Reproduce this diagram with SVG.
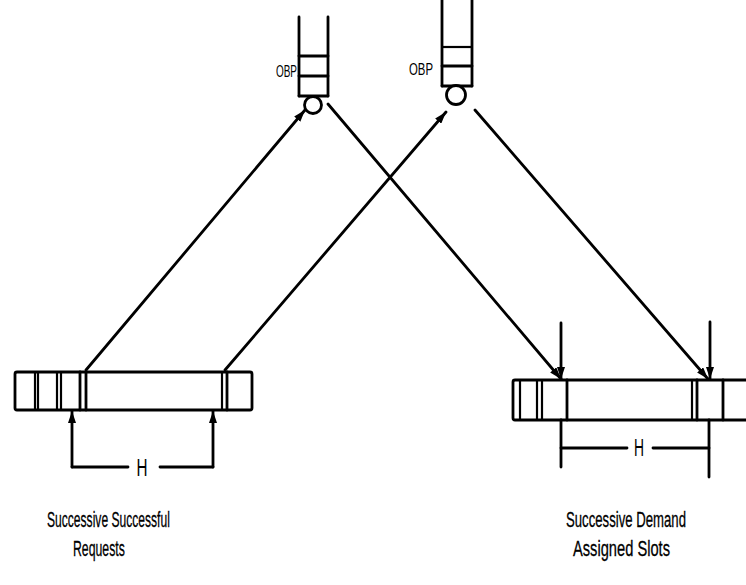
<svg xmlns="http://www.w3.org/2000/svg" width="746" height="585" viewBox="0 0 746 585">
  <style>
    .ln { stroke: #000; stroke-width: 2.8; fill: none; stroke-linecap: round; }
    .thin { stroke: #000; stroke-width: 2.2; fill: none; }
    .box { stroke: #000; stroke-width: 2.8; fill: #fff; }
    .lbl { font-family: "Liberation Sans", Arial, sans-serif; font-size: 22px; fill: #000; stroke: #000; stroke-width: 0.3; }
    .obp { font-family: "Liberation Sans", Arial, sans-serif; font-size: 17px; fill: #000; }
    .h { font-family: "Liberation Sans", Arial, sans-serif; font-size: 23px; fill: #000; }
  </style>
  <defs>
    <marker id="arr" viewBox="0 0 12 8" refX="12" refY="4" markerWidth="12" markerHeight="8" markerUnits="userSpaceOnUse" orient="auto">
      <path d="M0,0 L12,4 L0,8 Z" fill="#000"/>
    </marker>
  </defs>

  <rect width="746" height="585" fill="#fff"/>

  <!-- on-board processor, left -->
  <g id="obp-left">
    <line class="ln" x1="299" y1="17" x2="299" y2="96"/>
    <line class="ln" x1="328" y1="17" x2="328" y2="96"/>
    <line class="ln" x1="299" y1="56" x2="328" y2="56"/>
    <line class="ln" x1="299" y1="76" x2="328" y2="76"/>
    <line class="ln" x1="299" y1="96" x2="328" y2="96"/>
    <circle class="box" cx="313" cy="105" r="8.5"/>
    <text class="obp" x="297" y="77" text-anchor="end" textLength="21" lengthAdjust="spacingAndGlyphs">OBP</text>
  </g>

  <!-- on-board processor, right -->
  <g id="obp-right">
    <line class="ln" x1="442" y1="0" x2="442" y2="86"/>
    <line class="ln" x1="472" y1="0" x2="472" y2="86"/>
    <line class="thin" x1="442" y1="47" x2="472" y2="47"/>
    <line class="ln" x1="442" y1="66" x2="472" y2="66"/>
    <line class="ln" x1="442" y1="86" x2="472" y2="86"/>
    <circle class="box" cx="456" cy="95" r="9.5"/>
    <text class="obp" x="433" y="75" text-anchor="end" textLength="24" lengthAdjust="spacingAndGlyphs">OBP</text>
  </g>

  <!-- request frame -->
  <g id="request-frame">
    <rect class="box" x="15" y="372" width="237" height="38" rx="2"/>
    <line class="thin" x1="35" y1="372" x2="35" y2="410"/>
    <line class="thin" x1="38" y1="372" x2="38" y2="410"/>
    <line class="thin" x1="57" y1="372" x2="57" y2="410"/>
    <line class="thin" x1="61" y1="372" x2="61" y2="410"/>
    <line class="ln" x1="80" y1="372" x2="80" y2="410"/>
    <line class="ln" x1="86" y1="372" x2="86" y2="410"/>
    <line class="thin" x1="222" y1="372" x2="222" y2="410"/>
    <line class="ln" x1="227" y1="372" x2="227" y2="410"/>
  </g>

  <!-- demand assigned frame -->
  <g id="slot-frame">
    <rect class="box" x="513" y="380" width="240" height="40" rx="2"/>
    <line class="thin" x1="520" y1="380" x2="520" y2="420"/>
    <line class="thin" x1="537" y1="380" x2="537" y2="420"/>
    <line class="thin" x1="542" y1="380" x2="542" y2="420"/>
    <line class="ln" x1="567" y1="380" x2="567" y2="420"/>
    <line class="thin" x1="692" y1="380" x2="692" y2="420"/>
    <line class="ln" x1="697" y1="380" x2="697" y2="420"/>
    <line class="ln" x1="723" y1="380" x2="723" y2="420"/>
  </g>

  <!-- links and spacing marks -->
  <g id="connectors">
    <line class="ln" x1="86" y1="370" x2="305" y2="110" marker-end="url(#arr)"/>
    <line class="ln" x1="225" y1="370" x2="446" y2="112" marker-end="url(#arr)"/>
    <line class="ln" x1="328" y1="104" x2="561" y2="379" marker-end="url(#arr)"/>
    <line class="ln" x1="475" y1="110" x2="708" y2="379" marker-end="url(#arr)"/>

    <line class="ln" x1="561" y1="323" x2="561" y2="379" marker-end="url(#arr)"/>
    <line class="ln" x1="710" y1="322" x2="710" y2="379" marker-end="url(#arr)"/>

    <line class="ln" x1="72" y1="467" x2="72" y2="411" marker-end="url(#arr)"/>
    <line class="ln" x1="213" y1="467" x2="213" y2="411" marker-end="url(#arr)"/>
    <line class="ln" x1="72" y1="467" x2="128" y2="467"/>
    <line class="ln" x1="160" y1="467" x2="213" y2="467"/>

    <line class="ln" x1="561" y1="420" x2="561" y2="467"/>
    <line class="ln" x1="709" y1="420" x2="709" y2="477"/>
    <line class="ln" x1="561" y1="448" x2="627" y2="448"/>
    <line class="ln" x1="653" y1="448" x2="709" y2="448"/>
  </g>

  <text class="h" x="142" y="476" text-anchor="middle" textLength="11" lengthAdjust="spacingAndGlyphs">H</text>
  <text class="h" x="639" y="456" text-anchor="middle" textLength="10" lengthAdjust="spacingAndGlyphs">H</text>

  <!-- captions, set in a narrowed face -->
  <text class="lbl" transform="translate(47,527) scale(0.64,1)" textLength="192" lengthAdjust="spacingAndGlyphs">Successive Successful</text>
  <text class="lbl" transform="translate(73,556) scale(0.64,1)" textLength="81" lengthAdjust="spacingAndGlyphs">Requests</text>
  <text class="lbl" transform="translate(566,527) scale(0.64,1)" textLength="187.5" lengthAdjust="spacingAndGlyphs">Successive Demand</text>
  <text class="lbl" transform="translate(573,556) scale(0.64,1)" textLength="151.6" lengthAdjust="spacingAndGlyphs">Assigned Slots</text>
</svg>
